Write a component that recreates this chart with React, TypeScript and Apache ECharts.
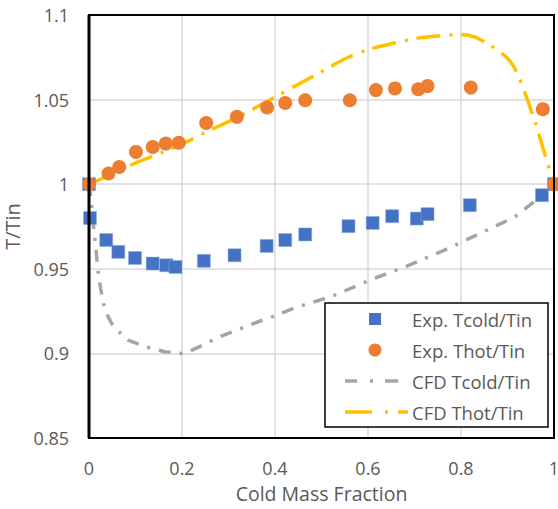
import React, { useEffect, useRef } from "react";
import * as echarts from "echarts";

const expTcoldX = [0, 0.002, 0.037, 0.063, 0.099, 0.137, 0.166, 0.186, 0.247, 0.313, 0.382, 0.422, 0.465, 0.558, 0.61, 0.652, 0.705, 0.728, 0.819, 0.974, 1.0];
const expTcoldY = [1.0, 0.980, 0.967, 0.960, 0.9564, 0.9531, 0.9521, 0.9511, 0.9547, 0.958, 0.9635, 0.967, 0.9703, 0.9752, 0.9771, 0.9811, 0.9797, 0.9823, 0.9876, 0.9935, 1.0];

const expThotX = [0, 0.042, 0.065, 0.101, 0.137, 0.165, 0.193, 0.252, 0.318, 0.383, 0.422, 0.465, 0.561, 0.617, 0.658, 0.708, 0.728, 0.821, 0.976, 1.0];
const expThotY = [1.0, 1.0063, 1.0102, 1.0191, 1.022, 1.024, 1.0245, 1.0362, 1.0398, 1.0453, 1.048, 1.0496, 1.0496, 1.0556, 1.0566, 1.0561, 1.058, 1.0571, 1.0443, 1.0];

const cfdTcoldX = [0, 0.005, 0.009, 0.015, 0.02, 0.025, 0.034, 0.052, 0.084, 0.124, 0.163, 0.205, 0.245, 0.282, 0.32, 0.361, 0.393, 0.443, 0.525, 0.604, 0.683, 0.761, 0.841, 0.916, 0.948, 0.973, 1.0];
const cfdTcoldY = [1.0, 0.99, 0.977, 0.9616, 0.947, 0.9385, 0.9255, 0.916, 0.9078, 0.9037, 0.901, 0.8998, 0.9049, 0.910, 0.914, 0.9184, 0.9216, 0.9269, 0.934, 0.9433, 0.9515, 0.9606, 0.9709, 0.9807, 0.9876, 0.9935, 1.0];

const cfdThotX = [0, 0.05, 0.1, 0.16, 0.21, 0.26, 0.3, 0.35, 0.4, 0.45, 0.5, 0.55, 0.6, 0.65, 0.7, 0.75, 0.8, 0.83, 0.86, 0.9, 0.92, 0.94, 0.96, 0.98, 1.0];
const cfdThotY = [1.0, 1.006, 1.0125, 1.019, 1.025, 1.032, 1.037, 1.044, 1.0515, 1.059, 1.0665, 1.074, 1.0795, 1.083, 1.086, 1.0876, 1.0885, 1.087, 1.0825, 1.0745, 1.066, 1.052, 1.036, 1.018, 1.0];

const seriesNames = ["Exp. Tcold/Tin", "Exp. Thot/Tin", "CFD Tcold/Tin", "CFD Thot/Tin"];
const colors = ["#4472C4", "#ED7D31", "#A5A5A5", "#FFC000"];

const zip = (xs: number[], ys: number[]) => xs.map((x, i) => [x, ys[i]]);

const FONT = "'Open Sans', 'Noto Sans', sans-serif";
const TXT = "#595959";

export default function App() {
  const ref = useRef<HTMLDivElement>(null);
  useEffect(() => {
    if (!ref.current) return;
    const chart = echarts.init(ref.current, undefined, { renderer: "svg" });
    const legendX = 325, legendY = 303, legendW = 223, legendH = 124;
    const rowY = [319, 350, 381, 412];
    const textX = 412;
    const gl = 89, gt = 15, gr = 4, gb = 71;
    chart.setOption({
      animation: false,
      backgroundColor: "#fff",
      textStyle: { fontFamily: FONT },
      grid: { left: gl, top: gt, right: gr, bottom: gb, show: false, containLabel: false, outerBoundsMode: "none" },
      xAxis: {
        type: "value", min: 0, max: 1, interval: 0.2,
        name: "Cold Mass Fraction", nameLocation: "middle", nameGap: 45,
        nameTextStyle: { fontSize: 19.5, color: TXT, fontFamily: FONT },
        axisLine: { show: false }, axisTick: { show: false },
        axisLabel: { fontSize: 18, color: TXT, margin: 21, fontFamily: FONT,
          formatter: (v: number) => String(+v.toFixed(2)) },
        splitLine: { lineStyle: { color: "#D9D9D9", width: 1.5 } },
      },
      yAxis: {
        type: "value", min: 0.85, max: 1.1, interval: 0.05,
        name: "T/Tin", nameLocation: "middle", nameGap: 63,
        nameTextStyle: { fontSize: 20, color: TXT, fontFamily: FONT },
        axisLine: { show: false }, axisTick: { show: false },
        axisLabel: { fontSize: 18, color: TXT, margin: 20, fontFamily: FONT,
          formatter: (v: number) => String(+v.toFixed(2)) },
        splitLine: { lineStyle: { color: "#D9D9D9", width: 1.5 } },
      },
      series: [
        {
          name: seriesNames[2], type: "line", data: zip(cfdTcoldX, cfdTcoldY),
          symbol: "none", z: 2,
          lineStyle: { color: colors[2], width: 3.5, type: [12, 9, 3, 9], cap: "butt" },
        },
        {
          name: seriesNames[3], type: "line", data: zip(cfdThotX, cfdThotY),
          symbol: "none", z: 2, smooth: 0.3,
          lineStyle: { color: colors[3], width: 3.5, type: [24, 9, 3, 9], cap: "butt" },
        },
        {
          name: seriesNames[0], type: "scatter", data: zip(expTcoldX, expTcoldY),
          symbol: "rect", symbolSize: 13, z: 3,
          itemStyle: { color: colors[0], borderColor: "#8FAADC", borderWidth: 0.5, opacity: 1 },
        },
        {
          name: seriesNames[1], type: "scatter", data: zip(expThotX, expThotY),
          symbol: "circle", symbolSize: 14, z: 4,
          itemStyle: { color: colors[1], opacity: 1 },
        },
      ],
      graphic: [
        {
          type: "rect", z: 50, silent: true,
          shape: { x: gl, y: gt, width: 558 - gl - gr, height: 509 - gt - gb },
          style: { fill: "none", stroke: "#000", lineWidth: 2 },
        },
        {
          type: "line", z: 50, silent: true,
          shape: { x1: gl, y1: gt, x2: gl, y2: 509 - gb },
          style: { stroke: "#000", lineWidth: 3 },
        },
        {
          type: "rect", z: 100,
          shape: { x: legendX, y: legendY, width: legendW, height: legendH },
          style: { fill: "#fff", stroke: "#000", lineWidth: 1.5 },
        },
        { type: "rect", z: 101, shape: { x: 369, y: rowY[0] - 6, width: 12, height: 12 }, style: { fill: colors[0] } },
        { type: "circle", z: 101, shape: { cx: 375, cy: rowY[1], r: 6.5 }, style: { fill: colors[1] } },
        { type: "line", z: 101, shape: { x1: 345, y1: rowY[2], x2: 357, y2: rowY[2] }, style: { stroke: colors[2], lineWidth: 3.5 } },
        { type: "line", z: 101, shape: { x1: 370, y1: rowY[2], x2: 373, y2: rowY[2] }, style: { stroke: colors[2], lineWidth: 3.5 } },
        { type: "line", z: 101, shape: { x1: 385, y1: rowY[2], x2: 398, y2: rowY[2] }, style: { stroke: colors[2], lineWidth: 3.5 } },
        { type: "line", z: 101, shape: { x1: 345, y1: rowY[3], x2: 372, y2: rowY[3] }, style: { stroke: colors[3], lineWidth: 3.5 } },
        { type: "line", z: 101, shape: { x1: 385, y1: rowY[3], x2: 388, y2: rowY[3] }, style: { stroke: colors[3], lineWidth: 3.5 } },
        { type: "line", z: 101, shape: { x1: 398, y1: rowY[3], x2: 408, y2: rowY[3] }, style: { stroke: colors[3], lineWidth: 3.5 } },
        ...seriesNames.map((n, i) => ({
          type: "text", z: 101, x: textX, y: rowY[i],
          style: { text: n, fill: TXT, fontSize: 18.5, fontFamily: FONT, verticalAlign: "middle", align: "left" },
        })),
      ],
    });
    return () => chart.dispose();
  }, []);
  return (
    <div
      ref={ref}
      style={{ position: "fixed", left: 0, top: 0, width: 558, height: 509, background: "#fff" }}
    />
  );
}
